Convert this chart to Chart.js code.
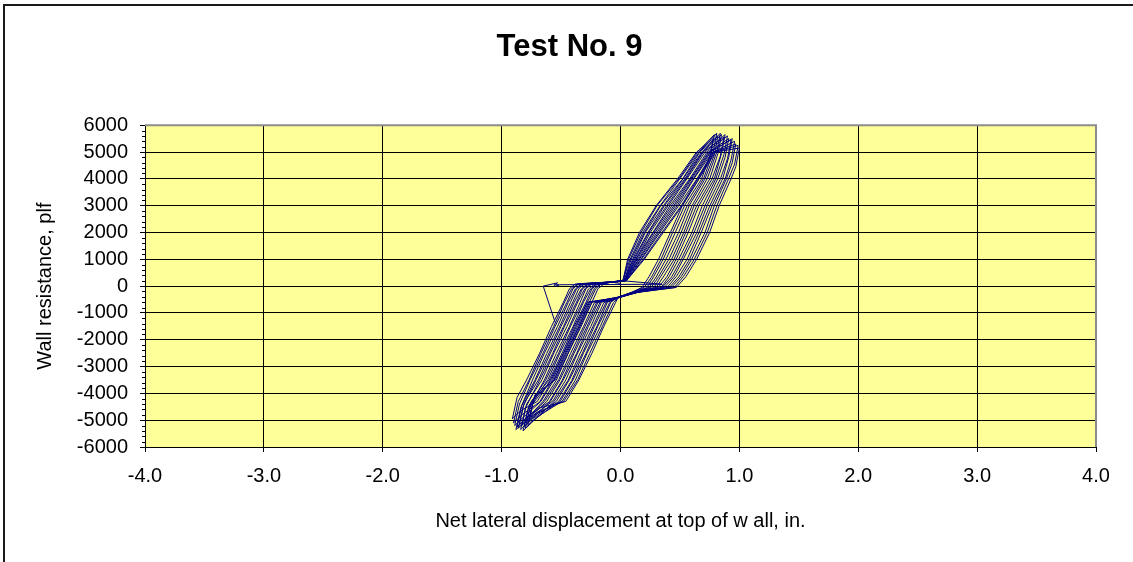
<!DOCTYPE html>
<html>
<head>
<meta charset="utf-8">
<title>Test No. 9</title>
<script src="https://cdn.jsdelivr.net/npm/chart.js@4.4.1/dist/chart.umd.min.js"></script>
<style>
  html, body { margin: 0; padding: 0; background: #fff; overflow: hidden; }
  #chart { display: block; }
</style>
</head>
<body>
<canvas id="chart" width="1133" height="562"></canvas>
<script>
// axis ticks
const xTicks = [-4, -3, -2, -1, 0, 1, 2, 3, 4];
const yTicks = [-6000, -5000, -4000, -3000, -2000, -1000, 0, 1000, 2000, 3000, 4000, 5000, 6000];

// net lateral displacement (in.) - one line per load cycle (push half ; pull half)
const dispIn = [
  -0.55, -0.65, -0.53, -0.56, -0.52, -0.54, -0.51, 0.35,
  0.02, 0.06, 0.16, 0.30, 0.48, 0.64, 0.78, 0.75, 0.66, 0.52, 0.42, 0.32, 0.24, 0.18, 0.10,  -0.02, -0.04, -0.14, -0.24, -0.35, -0.46, -0.69, -0.76, -0.72, -0.55, -0.44, -0.34, -0.24, -0.19, -0.14, -0.08,
  0.02, 0.07, 0.17, 0.31, 0.49, 0.65, 0.79, 0.76, 0.68, 0.54, 0.44, 0.34, 0.26, 0.20, 0.10,  -0.02, -0.06, -0.15, -0.26, -0.36, -0.48, -0.70, -0.77, -0.73, -0.56, -0.46, -0.35, -0.26, -0.21, -0.16, -0.08,
  0.02, 0.08, 0.19, 0.33, 0.50, 0.66, 0.81, 0.78, 0.70, 0.56, 0.46, 0.36, 0.28, 0.22, 0.11,  -0.02, -0.08, -0.17, -0.28, -0.38, -0.49, -0.71, -0.78, -0.74, -0.58, -0.48, -0.37, -0.28, -0.22, -0.17, -0.08,
  0.03, 0.09, 0.20, 0.34, 0.52, 0.67, 0.82, 0.79, 0.71, 0.58, 0.49, 0.38, 0.30, 0.24, 0.11,  -0.02, -0.09, -0.19, -0.29, -0.40, -0.51, -0.72, -0.79, -0.75, -0.60, -0.49, -0.39, -0.29, -0.24, -0.19, -0.08,
  0.03, 0.10, 0.21, 0.36, 0.53, 0.68, 0.84, 0.81, 0.73, 0.60, 0.51, 0.41, 0.32, 0.26, 0.11,  -0.02, -0.11, -0.20, -0.31, -0.41, -0.52, -0.73, -0.80, -0.76, -0.61, -0.51, -0.40, -0.31, -0.25, -0.20, -0.08,
  0.03, 0.11, 0.23, 0.37, 0.54, 0.69, 0.85, 0.82, 0.75, 0.62, 0.53, 0.43, 0.34, 0.28, 0.12,  -0.02, -0.12, -0.22, -0.32, -0.43, -0.54, -0.74, -0.81, -0.77, -0.63, -0.52, -0.42, -0.32, -0.27, -0.22, -0.08,
  0.03, 0.12, 0.24, 0.39, 0.55, 0.70, 0.87, 0.84, 0.77, 0.64, 0.55, 0.45, 0.36, 0.30, 0.12,  -0.02, -0.14, -0.23, -0.34, -0.44, -0.56, -0.75, -0.82, -0.78, -0.64, -0.54, -0.43, -0.34, -0.29, -0.24, -0.08,
  0.03, 0.13, 0.25, 0.40, 0.56, 0.71, 0.88, 0.85, 0.79, 0.66, 0.57, 0.47, 0.39, 0.32, 0.12,  -0.02, -0.16, -0.25, -0.36, -0.46, -0.57, -0.76, -0.83, -0.79, -0.66, -0.56, -0.45, -0.36, -0.30, -0.25, -0.08,
  0.04, 0.13, 0.27, 0.42, 0.58, 0.73, 0.90, 0.87, 0.80, 0.69, 0.60, 0.49, 0.41, 0.34, 0.13,  -0.02, -0.17, -0.27, -0.37, -0.48, -0.59, -0.77, -0.84, -0.80, -0.68, -0.57, -0.47, -0.37, -0.32, -0.27, -0.08,
  0.04, 0.14, 0.28, 0.43, 0.59, 0.74, 0.91, 0.88, 0.82, 0.71, 0.62, 0.51, 0.43, 0.35, 0.13,  -0.02, -0.19, -0.28, -0.39, -0.49, -0.60, -0.78, -0.85, -0.81, -0.69, -0.59, -0.48, -0.39, -0.33, -0.28, -0.08,
  0.04, 0.15, 0.29, 0.45, 0.60, 0.75, 0.93, 0.90, 0.84, 0.73, 0.64, 0.53, 0.45, 0.37, 0.13,  -0.02, -0.20, -0.30, -0.40, -0.51, -0.62, -0.79, -0.86, -0.82, -0.71, -0.60, -0.50, -0.40, -0.35, -0.30, -0.08,
  0.04, 0.16, 0.31, 0.46, 0.61, 0.76, 0.94, 0.91, 0.86, 0.75, 0.66, 0.56, 0.47, 0.39, 0.14,  -0.02, -0.22, -0.31, -0.42, -0.52, -0.64, -0.80, -0.87, -0.83, -0.72, -0.62, -0.51, -0.42, -0.37, -0.32, -0.08,
  0.04, 0.17, 0.32, 0.48, 0.62, 0.77, 0.96, 0.93, 0.88, 0.77, 0.68, 0.58, 0.49, 0.41, 0.14,  -0.02, -0.24, -0.33, -0.44, -0.54, -0.65, -0.81, -0.88, -0.84, -0.74, -0.64, -0.53, -0.44, -0.38, -0.33, -0.08,
  0.05, 0.18, 0.33, 0.49, 0.64, 0.78, 0.97, 0.94, 0.89, 0.79, 0.71, 0.60, 0.51, 0.43, 0.14,  -0.02, -0.25, -0.35, -0.45, -0.56, -0.67, -0.82, -0.89, -0.85, -0.76, -0.65, -0.55, -0.45, -0.40, -0.35, -0.08,
  0.05, 0.19, 0.35, 0.51, 0.65, 0.79, 0.99, 0.96, 0.91, 0.81, 0.73, 0.62, 0.53, 0.45, 0.15,  -0.02, -0.27, -0.36, -0.47, -0.57, -0.68, -0.83, -0.90, -0.86, -0.77, -0.67, -0.56, -0.47, -0.41, -0.36, -0.08,
  0.05, 0.20, 0.36, 0.52, 0.66, 0.80, 1.00, 0.97, 0.93, 0.83, 0.75, 0.64, 0.55, 0.47, 0.15,  -0.02, -0.28, -0.38, -0.48, -0.59, -0.70, -0.84, -0.91, -0.87, -0.79, -0.68, -0.58, -0.48, -0.43, -0.38, -0.08, 0.00
];

// wall resistance (plf), same order as dispIn
const loadPlf = [
  -1350, 0, 120, 30, 60, 0, 50, 70,
  200, 1000, 2000, 3000, 4000, 5000, 5500, 4800, 4000, 3000, 2000, 1000, 350, -50, -220,  -420, -600, -1500, -2500, -3500, -4300, -4550, -4850, -4050, -3500, -2500, -1500, -600, -100, 80, 150,
  180, 1020, 1980, 3020, 3990, 5010, 5650, 4950, 3980, 3010, 2020, 990, 330, -40, -230,  -430, -620, -1480, -2520, -3490, -4310, -4700, -5000, -4200, -3510, -2490, -1510, -590, -110, 90, 140,
  210, 990, 2020, 2980, 4010, 4990, 5700, 5000, 4020, 2990, 1990, 1010, 360, -60, -210,  -410, -590, -1510, -2490, -3510, -4290, -4900, -5200, -4400, -3490, -2510, -1490, -610, -90, 70, 160,
  190, 1010, 1990, 3010, 3980, 5020, 5600, 4900, 3990, 3020, 2010, 980, 340, -50, -240,  -420, -610, -1490, -2510, -3500, -4320, -4800, -5100, -4300, -3500, -2490, -1500, -600, -100, 80, 150,
  200, 980, 2010, 2990, 4020, 4980, 5700, 5000, 4010, 2980, 2000, 1020, 350, -40, -220,  -440, -600, -1520, -2480, -3520, -4300, -5000, -5300, -4500, -3480, -2500, -1520, -580, -100, 90, 140,
  220, 1000, 1990, 3000, 3990, 5000, 5650, 4950, 3990, 3010, 1980, 1000, 370, -60, -230,  -420, -600, -1500, -2500, -3490, -4300, -4950, -5250, -4450, -3510, -2500, -1490, -600, -110, 70, 150,
  190, 1010, 2020, 3010, 4000, 5020, 5550, 4850, 4000, 2990, 2010, 990, 340, -50, -210,  -410, -620, -1490, -2510, -3510, -4310, -5100, -5400, -4600, -3500, -2510, -1510, -610, -90, 80, 160,
  200, 990, 2000, 2990, 4010, 4990, 5650, 4950, 4010, 3000, 2000, 1010, 350, -40, -250,  -430, -600, -1510, -2490, -3500, -4290, -4900, -5200, -4400, -3490, -2490, -1500, -590, -100, 90, 150,
  210, 1020, 1980, 3020, 3990, 5010, 5600, 4900, 3980, 3020, 1990, 1000, 360, -60, -220,  -420, -590, -1500, -2520, -3490, -4300, -5050, -5350, -4550, -3510, -2510, -1490, -600, -100, 70, 140,
  190, 1000, 2010, 2980, 4000, 4990, 5500, 4800, 4020, 2990, 2010, 980, 340, -50, -240,  -440, -610, -1490, -2500, -3510, -4320, -4850, -5150, -4350, -3500, -2500, -1510, -610, -110, 80, 150,
  200, 990, 1990, 3010, 4010, 5000, 5450, 4750, 3990, 3010, 1980, 1020, 350, -40, -230,  -420, -600, -1520, -2490, -3500, -4300, -5000, -5300, -4500, -3490, -2490, -1500, -590, -90, 90, 160,
  220, 1010, 2020, 2990, 3990, 5010, 5500, 4800, 4010, 2980, 2000, 1000, 360, -60, -210,  -430, -620, -1500, -2510, -3490, -4310, -4950, -5250, -4450, -3510, -2510, -1490, -600, -100, 70, 150,
  190, 1000, 2000, 3020, 4020, 4980, 5400, 4700, 4000, 3000, 2010, 990, 340, -50, -240,  -410, -600, -1490, -2500, -3510, -4290, -5050, -5350, -4550, -3500, -2500, -1510, -610, -110, 80, 140,
  200, 1020, 1990, 3000, 3980, 5000, 5300, 4600, 3990, 3010, 1990, 1010, 350, -40, -220,  -420, -590, -1510, -2490, -3500, -4300, -4900, -5200, -4400, -3490, -2490, -1500, -600, -100, 90, 150,
  210, 990, 2010, 2990, 4010, 4990, 5250, 4550, 4010, 2990, 2000, 990, 360, -60, -230,  -440, -610, -1500, -2510, -3490, -4320, -4800, -5100, -4300, -3510, -2510, -1490, -590, -90, 70, 160,
  200, 1000, 2000, 3000, 4000, 5000, 5150, 4450, 4000, 3000, 2000, 1000, 350, -50, -220,  -430, -600, -1500, -2500, -3500, -4300, -4650, -4950, -4150, -3500, -2500, -1500, -600, -100, 80, 150, 100
];

const FONT = 'Arial, "Liberation Sans", sans-serif';
const points = dispIn.map((x, i) => ({ x: x, y: loadPlf[i] }));

// outer frame, yellow plot area, grey top/right edge, minor ticks on the value axis
const plotFrame = {
  id: 'plotFrame',
  beforeDraw(chart) {
    const a = chart.chartArea;
    const ctx = chart.ctx;
    ctx.save();
    ctx.fillStyle = '#fff';
    ctx.fillRect(0, 0, chart.width, chart.height);
    ctx.fillStyle = '#1a1a1a';
    ctx.fillRect(3, 4, chart.width - 3, 2);
    ctx.fillRect(3, 4, 2, chart.height - 4);
    ctx.fillStyle = '#FFFF99';
    ctx.fillRect(a.left, a.top, a.right - a.left, a.bottom - a.top);
    ctx.restore();
  },
  afterDraw(chart) {
    const a = chart.chartArea;
    const ctx = chart.ctx;
    const y = chart.scales.y;
    ctx.save();
    ctx.strokeStyle = '#8c8c8c';
    ctx.lineWidth = 2;
    ctx.beginPath();
    ctx.moveTo(a.left, a.top);
    ctx.lineTo(a.right, a.top);
    ctx.lineTo(a.right, a.bottom);
    ctx.stroke();
    ctx.strokeStyle = '#000';
    ctx.lineWidth = 1;
    ctx.beginPath();
    for (let v = -6000; v <= 6000; v += 200) {
      if (v % 1000 === 0) continue;
      const py = Math.round(y.getPixelForValue(v)) + 0.5;
      ctx.moveTo(a.left - 3, py);
      ctx.lineTo(a.left, py);
    }
    ctx.stroke();
    ctx.restore();
  }
};

const ctx = document.getElementById('chart').getContext('2d');
const myChart = new Chart(ctx, {
  type: 'scatter',
  data: {
    datasets: [{
      data: points,
      showLine: true,
      borderColor: '#000080',
      backgroundColor: '#000080',
      borderWidth: 1,
      pointRadius: 0,
      tension: 0
    }]
  },
  options: {
    responsive: false,
    animation: false,
    layout: { padding: { left: 43, right: 37, top: 0, bottom: 0 } },
    plugins: {
      legend: { display: false },
      tooltip: { enabled: false },
      title: {
        display: true,
        text: 'Test No. 9',
        color: '#000',
        font: { family: FONT, size: 31, weight: 'bold' },
        padding: { top: 29, bottom: 59 }
      }
    },
    scales: {
      x: {
        type: 'linear',
        min: -4,
        max: 4,
        afterBuildTicks: s => { s.ticks = xTicks.map(v => ({ value: v })); },
        afterFit: s => { s.height = 115; },
        ticks: {
          color: '#000',
          font: { family: FONT, size: 20 },
          padding: 12,
          autoSkip: false,
          maxRotation: 0,
          callback: v => v.toFixed(1)
        },
        grid: {
          color: c => (c.tick && c.tick.value === 4 ? 'rgba(0,0,0,0)' : '#000'),
          tickColor: '#000',
          tickLength: 5,
          lineWidth: 1
        },
        border: { color: '#000', width: 1 },
        title: {
          display: true,
          text: 'Net lateral displacement at top of w all, in.',
          color: '#000',
          font: { family: FONT, size: 20 },
          padding: { top: 0, bottom: 29 }
        }
      },
      y: {
        type: 'linear',
        min: -6000,
        max: 6000,
        afterBuildTicks: s => { s.ticks = yTicks.map(v => ({ value: v })); },
        afterFit: s => { s.width = 102; },
        ticks: {
          color: '#000',
          font: { family: FONT, size: 20 },
          padding: 12,
          autoSkip: false,
          callback: v => String(v)
        },
        grid: {
          color: c => (c.tick && c.tick.value === 6000 ? 'rgba(0,0,0,0)' : '#000'),
          tickColor: '#000',
          tickLength: 5,
          lineWidth: 1
        },
        border: { color: '#000', width: 1 },
        title: {
          display: true,
          text: 'Wall resistance, plf',
          color: '#000',
          font: { family: FONT, size: 20 },
          padding: { top: -10, bottom: 0 }
        }
      }
    }
  },
  plugins: [plotFrame]
});
</script>
</body>
</html>
